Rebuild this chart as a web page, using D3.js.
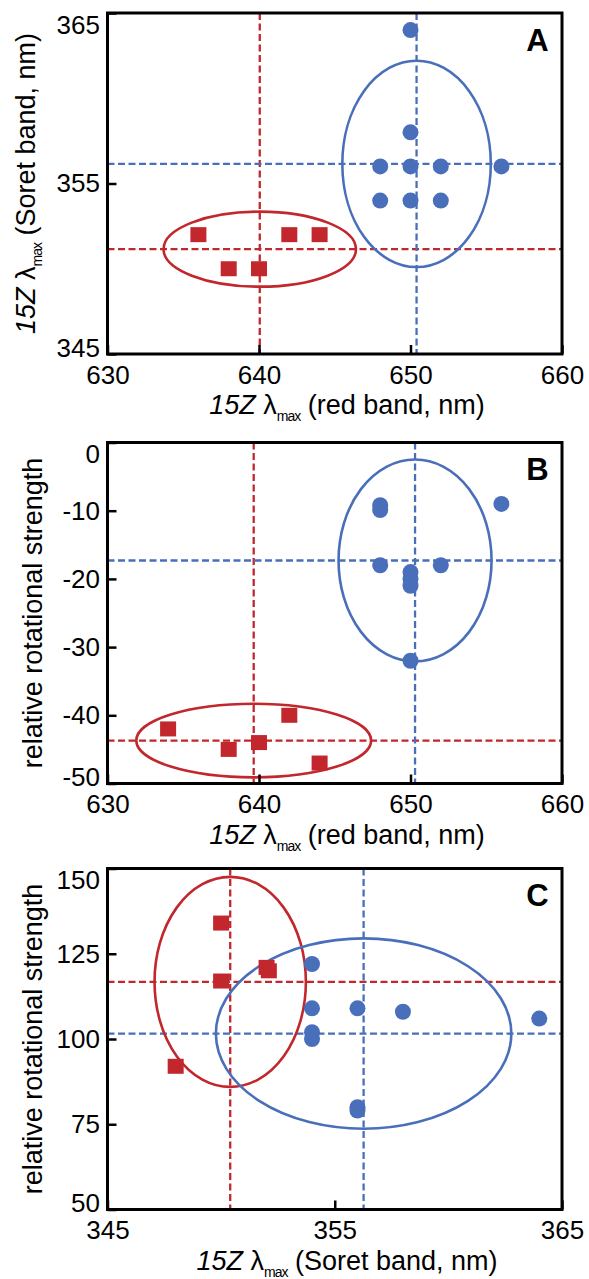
<!DOCTYPE html>
<html>
<head>
<meta charset="utf-8">
<script src="https://cdn.jsdelivr.net/npm/d3@7"></script>
<style>
  body { margin: 0; background: #fff; }
  svg { display: block; font-family: "Liberation Sans", Arial, sans-serif; }
</style>
</head>
<body>
<svg id="chart"></svg>
<script>
const WIDTH = 589;
const HEIGHT = 1279;
const LEFT = 107.5;
const RIGHT = 562;
const PH = 341;
const TOPS = [13, 442.5, 868.5];
const RED = "#c1272d";
const BLUE = "#4a6fba";

// panel A : red band vs Soret band
const aXTicks = [630, 640, 650, 660];
const aXLabels = ["630", "640", "650", "660"];
const aYTicks = [345, 355, 365];
const aYLabels = ["345", "355", "365"];
const aRedX = [636, 638, 640, 642, 644];
const aRedY = [352, 350, 350, 352, 352];
const aBlueX = [650, 650, 648, 650, 652, 656, 648, 650, 652];
const aBlueY = [364, 358, 356, 356, 356, 356, 354, 354, 354];
const aCentres = [[640.05, 351.15], [650.4, 356.15]];   // red, blue
const aRadii = [[6.35, 2.2], [4.9, 6.05]];

// panel B : red band vs rotational strength
const bXTicks = [630, 640, 650, 660];
const bXLabels = ["630", "640", "650", "660"];
const bYTicks = [0, -10, -20, -30, -40, -50];
const bYLabels = ["0", "-10", "-20", "-30", "-40", "-50"];
const bRedX = [634, 638, 640, 642, 644];
const bRedY = [-42, -45, -44, -40, -47];
const bBlueX = [648, 648, 656, 648, 652, 650, 650, 650, 650];
const bBlueY = [-9.2, -9.9, -9, -18, -18, -19, -20, -21, -32];
const bCentres = [[639.65, -43.7], [650.3, -17.3]];
const bRadii = [[7.75, 5.4], [5.05, 14.8]];

// panel C : Soret band vs rotational strength
const cXTicks = [345, 355, 365];
const cXLabels = ["345", "355", "365"];
const cYTicks = [50, 75, 100, 125, 150];
const cYLabels = ["50", "75", "100", "125", "150"];
const cRedX = [350, 350, 352, 352.1, 348];
const cRedY = [134, 117, 121, 120, 92];
const cBlueX = [354, 354, 354, 354, 356, 356, 356, 358, 364];
const cBlueY = [122, 109, 102, 100, 109, 80, 79, 108, 106];
const cCentres = [[350.4, 116.75], [356.27, 101.6]];
const cRadii = [[3.33, 30.8], [6.5, 27.9]];

const RED_BAND = [["15Z", "italic"], [" λ", ""], ["max", "sub"], [" (red band, nm)", ""]];
const SORET_BAND = [["15Z", "italic"], [" λ", ""], ["max", "sub"], [" (Soret band, nm)", ""]];
const ROT = [["relative rotational strength", ""]];

const panels = [
    {letter: "A", xDomain: [630, 660], yDomain: [345, 365], xTicks: aXTicks, xLabels: aXLabels,
     yTicks: aYTicks, yLabels: aYLabels, redX: aRedX, redY: aRedY, blueX: aBlueX, blueY: aBlueY,
     centres: aCentres, radii: aRadii, xTitle: RED_BAND, yTitle: SORET_BAND, yTitleX: 35},
    {letter: "B", xDomain: [630, 660], yDomain: [-50, 0], xTicks: bXTicks, xLabels: bXLabels,
     yTicks: bYTicks, yLabels: bYLabels, redX: bRedX, redY: bRedY, blueX: bBlueX, blueY: bBlueY,
     centres: bCentres, radii: bRadii, xTitle: RED_BAND, yTitle: ROT, yTitleX: 42},
    {letter: "C", xDomain: [345, 365], yDomain: [50, 150], xTicks: cXTicks, xLabels: cXLabels,
     yTicks: cYTicks, yLabels: cYLabels, redX: cRedX, redY: cRedY, blueX: cBlueX, blueY: cBlueY,
     centres: cCentres, radii: cRadii, xTitle: SORET_BAND, yTitle: ROT, yTitleX: 42}
];

const svg = d3.select("#chart").attr("width", WIDTH).attr("height", HEIGHT);

function addTitle(text, parts) {
    parts.forEach(function(p, i) {
        const t = text.append("tspan").text(p[0]);
        if (p[1] == "italic") t.style("font-style", "italic");
        if (p[1] == "sub") {
            t.attr("font-size", 14).attr("dy", 7).attr("letter-spacing", -1);
        }
        // undo the subscript shift on the part after it
        if (i > 0 && parts[i - 1][1] == "sub") t.attr("dy", -7);
    });
}

function drawPanel(top, p) {
    const x = d3.scaleLinear().domain(p.xDomain).range([LEFT, RIGHT]);
    const y = d3.scaleLinear().domain(p.yDomain).range([top + PH, top]);
    const g = svg.append("g");

    const clipId = "clip" + p.letter;
    svg.append("clipPath").attr("id", clipId)
        .append("rect")
        .attr("x", LEFT).attr("y", top)
        .attr("width", RIGHT - LEFT).attr("height", PH);
    const plot = g.append("g").attr("clip-path", "url(#" + clipId + ")");
    const cols = [RED, BLUE];

    // dashed lines through the group centres
    p.centres.forEach(function(c, k) {
        plot.append("line")
            .attr("x1", x(c[0])).attr("x2", x(c[0]))
            .attr("y1", top).attr("y2", top + PH)
            .attr("stroke", cols[k]).attr("stroke-width", 2.3)
            .attr("stroke-dasharray", "7,3.5");
        plot.append("line")
            .attr("x1", LEFT).attr("x2", RIGHT)
            .attr("y1", y(c[1])).attr("y2", y(c[1]))
            .attr("stroke", cols[k]).attr("stroke-width", 2.3)
            .attr("stroke-dasharray", "7,3.5");
    });

    plot.selectAll("ellipse")
        .data(p.centres)
        .enter()
        .append("ellipse")
        .attr("cx", d => x(d[0]))
        .attr("cy", d => y(d[1]))
        .attr("rx", (d, k) => x(d[0] + p.radii[k][0]) - x(d[0]))
        .attr("ry", (d, k) => y(d[1]) - y(d[1] + p.radii[k][1]))
        .attr("fill", "none")
        .attr("stroke", (d, k) => cols[k])
        .attr("stroke-width", 2.6);

    plot.selectAll("circle")
        .data(p.blueX)
        .enter()
        .append("circle")
        .attr("cx", d => x(d))
        .attr("cy", (d, i) => y(p.blueY[i]))
        .attr("r", 8)
        .attr("fill", BLUE);

    plot.selectAll("rect.sq")
        .data(p.redX)
        .enter()
        .append("rect")
        .attr("class", "sq")
        .attr("x", d => x(d) - 8)
        .attr("y", (d, i) => y(p.redY[i]) - 7.5)
        .attr("width", 16)
        .attr("height", 15)
        .attr("fill", RED);

    // axes, ticks pointing inward
    const xAxis = g.append("g")
        .attr("transform", "translate(0," + (top + PH) + ")")
        .call(d3.axisBottom(x).tickValues(p.xTicks)
            .tickFormat((d, i) => p.xLabels[i])
            .tickSize(-9).tickPadding(11.5));
    const yAxis = g.append("g")
        .attr("transform", "translate(" + LEFT + ",0)")
        .call(d3.axisLeft(y).tickValues(p.yTicks)
            .tickFormat((d, i) => p.yLabels[i])
            .tickSize(-9).tickPadding(7.5));
    [xAxis, yAxis].forEach(function(a) {
        a.select(".domain").remove();
        a.attr("font-size", 26).attr("font-family", null);
        a.selectAll("line").attr("stroke", "#000").attr("stroke-width", 2.5);
        a.selectAll("text").attr("fill", "#000");
    });
    // end labels sit a little inside the frame
    const yMin = d3.min(p.yDomain), yMax = d3.max(p.yDomain);
    yAxis.selectAll(".tick").each(function(d) {
        const t = d3.select(this).select("text");
        if (d == yMax) t.attr("dy", "0.78em");
        if (d == yMin) t.attr("dy", "0.08em");
    });

    g.append("rect")
        .attr("x", LEFT).attr("y", top)
        .attr("width", RIGHT - LEFT).attr("height", PH)
        .attr("fill", "none")
        .attr("stroke", "#000")
        .attr("stroke-width", 3);

    g.append("text")
        .attr("x", 537.5).attr("y", top + 37.5)
        .attr("text-anchor", "middle")
        .attr("font-size", 31)
        .attr("font-weight", "bold")
        .text(p.letter);

    const xt = g.append("text")
        .attr("x", 347).attr("y", top + PH + 60)
        .attr("text-anchor", "middle")
        .attr("font-size", 27);
    addTitle(xt, p.xTitle);

    const yt = g.append("text")
        .attr("transform", "translate(" + p.yTitleX + "," + (top + PH / 2) + ") rotate(-90)")
        .attr("text-anchor", "middle")
        .attr("font-size", 27);
    addTitle(yt, p.yTitle);
}

panels.forEach(function(p, i) {
    drawPanel(TOPS[i], p);
});
</script>
</body>
</html>
